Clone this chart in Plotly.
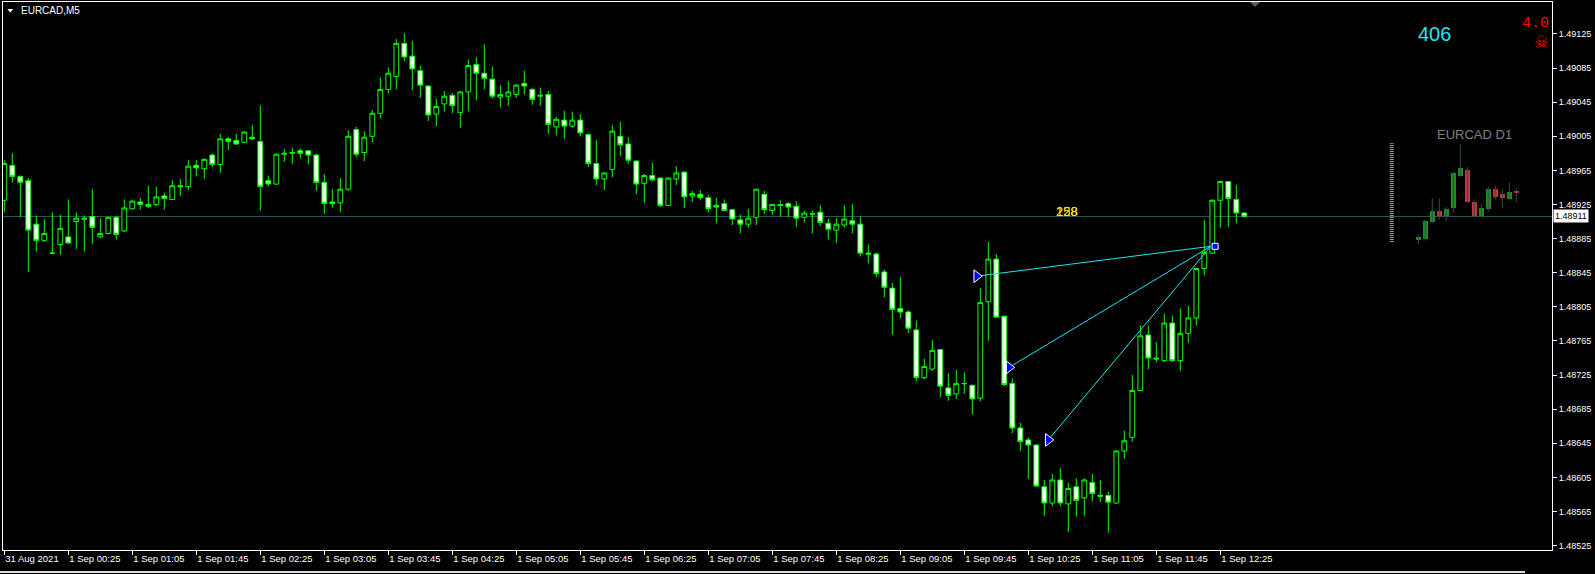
import plotly.graph_objects as go

# ---------------- data (EURCAD M5, bars indexed from 31 Aug 23:45) ----------------
bar_index = list(range(156))
opens = [1.48930, 1.48971, 1.48958, 1.48953, 1.48902, 1.48883, 1.48868, 1.48878, 1.48887, 1.48905,
         1.48909, 1.48911, 1.48887, 1.48891, 1.48910, 1.48894, 1.48920, 1.48928, 1.48925, 1.48925,
         1.48935, 1.48931, 1.48947, 1.48946, 1.48971, 1.48967, 1.48983, 1.48972, 1.49002, 1.49000,
         1.48998, 1.49004, 1.48999, 1.48953, 1.48949, 1.48984, 1.48985, 1.48988, 1.48988, 1.48983,
         1.48951, 1.48928, 1.48927, 1.48943, 1.49013, 1.48986, 1.49005, 1.49032, 1.49060, 1.49075,
         1.49114, 1.49099, 1.49082, 1.49064, 1.49031, 1.49043, 1.49053, 1.49033, 1.49057, 1.49089,
         1.49079, 1.49072, 1.49051, 1.49052, 1.49054, 1.49067, 1.49060, 1.49052, 1.49054, 1.49016,
         1.49024, 1.49017, 1.49024, 1.49007, 1.48973, 1.48955, 1.48966, 1.49005, 1.48996, 1.48976,
         1.48950, 1.48959, 1.48956, 1.48924, 1.48955, 1.48963, 1.48935, 1.48937, 1.48933, 1.48924,
         1.48926, 1.48919, 1.48907, 1.48902, 1.48910, 1.48937, 1.48918, 1.48925, 1.48926, 1.48923,
         1.48910, 1.48914, 1.48916, 1.48903, 1.48895, 1.48901, 1.48906, 1.48902, 1.48868, 1.48867,
         1.48846, 1.48827, 1.48803, 1.48799, 1.48778, 1.48722, 1.48732, 1.48755, 1.48710, 1.48703,
         1.48715, 1.48713, 1.48698, 1.48811, 1.48861, 1.48794, 1.48715, 1.48663, 1.48649, 1.48643,
         1.48594, 1.48575, 1.48602, 1.48574, 1.48594, 1.48581, 1.48599, 1.48584, 1.48584, 1.48575,
         1.48636, 1.48652, 1.48707, 1.48772, 1.48745, 1.48742, 1.48786, 1.48742, 1.48774, 1.48792,
         1.48850, 1.48868, 1.48930, 1.48952, 1.48931, 1.48915]
highs = [1.48977, 1.48985, 1.48959, 1.48956, 1.48912, 1.48908, 1.48916, 1.48913, 1.48931, 1.48916,
         1.48912, 1.48943, 1.48909, 1.48911, 1.48912, 1.48931, 1.48931, 1.48933, 1.48947, 1.48946,
         1.48939, 1.48954, 1.48955, 1.48977, 1.48977, 1.48979, 1.48985, 1.49008, 1.49004, 1.49008,
         1.49011, 1.49018, 1.49041, 1.48959, 1.48985, 1.48990, 1.48992, 1.48991, 1.48989, 1.48985,
         1.48961, 1.48943, 1.48956, 1.49012, 1.49016, 1.49011, 1.49036, 1.49074, 1.49086, 1.49119,
         1.49126, 1.49117, 1.49088, 1.49065, 1.49049, 1.49058, 1.49056, 1.49058, 1.49095, 1.49098,
         1.49113, 1.49087, 1.49065, 1.49070, 1.49066, 1.49082, 1.49062, 1.49062, 1.49058, 1.49028,
         1.49035, 1.49034, 1.49031, 1.49008, 1.49001, 1.48963, 1.49018, 1.49022, 1.49004, 1.48977,
         1.48961, 1.48974, 1.48957, 1.48957, 1.48970, 1.48964, 1.48941, 1.48942, 1.48936, 1.48933,
         1.48931, 1.48920, 1.48913, 1.48920, 1.48943, 1.48941, 1.48926, 1.48930, 1.48928, 1.48929,
         1.48918, 1.48918, 1.48924, 1.48908, 1.48909, 1.48924, 1.48926, 1.48911, 1.48878, 1.48869,
         1.48849, 1.48833, 1.48840, 1.48801, 1.48789, 1.48744, 1.48766, 1.48756, 1.48727, 1.48731,
         1.48728, 1.48714, 1.48827, 1.48881, 1.48867, 1.48795, 1.48721, 1.48669, 1.48652, 1.48644,
         1.48602, 1.48609, 1.48616, 1.48599, 1.48604, 1.48604, 1.48609, 1.48602, 1.48588, 1.48637,
         1.48660, 1.48725, 1.48783, 1.48783, 1.48764, 1.48797, 1.48795, 1.48803, 1.48806, 1.48851,
         1.48907, 1.48931, 1.48953, 1.48953, 1.48948, 1.48916]
lows = [1.48916, 1.48951, 1.48910, 1.48846, 1.48870, 1.48881, 1.48867, 1.48866, 1.48879, 1.48873,
        1.48870, 1.48879, 1.48886, 1.48890, 1.48884, 1.48893, 1.48919, 1.48919, 1.48921, 1.48923,
        1.48919, 1.48930, 1.48935, 1.48942, 1.48958, 1.48955, 1.48969, 1.48962, 1.48989, 1.48995,
        1.48997, 1.49001, 1.48918, 1.48946, 1.48948, 1.48975, 1.48973, 1.48979, 1.48972, 1.48941,
        1.48914, 1.48921, 1.48916, 1.48941, 1.48981, 1.48976, 1.48998, 1.49026, 1.49055, 1.49060,
        1.49093, 1.49059, 1.49050, 1.49023, 1.49017, 1.49034, 1.49032, 1.49015, 1.49034, 1.49047,
        1.49060, 1.49049, 1.49039, 1.49041, 1.49050, 1.49054, 1.49042, 1.49041, 1.49008, 1.49006,
        1.49002, 1.49015, 1.49005, 1.48969, 1.48948, 1.48942, 1.48957, 1.48982, 1.48973, 1.48937,
        1.48927, 1.48952, 1.48922, 1.48923, 1.48948, 1.48921, 1.48928, 1.48930, 1.48916, 1.48903,
        1.48917, 1.48901, 1.48891, 1.48898, 1.48901, 1.48914, 1.48913, 1.48911, 1.48910, 1.48899,
        1.48904, 1.48891, 1.48900, 1.48884, 1.48880, 1.48898, 1.48891, 1.48864, 1.48856, 1.48840,
        1.48816, 1.48772, 1.48792, 1.48774, 1.48718, 1.48720, 1.48730, 1.48699, 1.48695, 1.48697,
        1.48703, 1.48679, 1.48694, 1.48765, 1.48792, 1.48712, 1.48657, 1.48636, 1.48603, 1.48594,
        1.48560, 1.48571, 1.48571, 1.48541, 1.48559, 1.48560, 1.48577, 1.48576, 1.48540, 1.48574,
        1.48627, 1.48647, 1.48706, 1.48732, 1.48740, 1.48740, 1.48740, 1.48730, 1.48763, 1.48783,
        1.48842, 1.48867, 1.48898, 1.48899, 1.48903, 1.48910]
closes = [1.48973, 1.48958, 1.48951, 1.48895, 1.48883, 1.48891, 1.48868, 1.48897, 1.48880, 1.48909,
          1.48908, 1.48898, 1.48891, 1.48910, 1.48890, 1.48921, 1.48929, 1.48925, 1.48923, 1.48934,
          1.48932, 1.48947, 1.48946, 1.48970, 1.48968, 1.48978, 1.48972, 1.49002, 1.48999, 1.48996,
          1.49010, 1.49002, 1.48946, 1.48949, 1.48984, 1.48985, 1.48986, 1.48985, 1.48983, 1.48951,
          1.48926, 1.48926, 1.48943, 1.49005, 1.48984, 1.49004, 1.49032, 1.49060, 1.49079, 1.49114,
          1.49098, 1.49084, 1.49065, 1.49030, 1.49040, 1.49052, 1.49041, 1.49057, 1.49088, 1.49079,
          1.49073, 1.49052, 1.49054, 1.49057, 1.49065, 1.49064, 1.49048, 1.49053, 1.49019, 1.49025,
          1.49017, 1.49024, 1.49009, 1.48973, 1.48955, 1.48962, 1.49011, 1.48995, 1.48977, 1.48949,
          1.48959, 1.48954, 1.48924, 1.48956, 1.48962, 1.48934, 1.48938, 1.48933, 1.48920, 1.48922,
          1.48918, 1.48908, 1.48902, 1.48909, 1.48943, 1.48919, 1.48925, 1.48924, 1.48922, 1.48909,
          1.48915, 1.48914, 1.48904, 1.48896, 1.48902, 1.48908, 1.48902, 1.48868, 1.48867, 1.48844,
          1.48828, 1.48802, 1.48799, 1.48780, 1.48722, 1.48735, 1.48754, 1.48712, 1.48701, 1.48715,
          1.48715, 1.48697, 1.48810, 1.48861, 1.48793, 1.48714, 1.48663, 1.48647, 1.48643, 1.48595,
          1.48575, 1.48602, 1.48575, 1.48592, 1.48578, 1.48602, 1.48586, 1.48583, 1.48576, 1.48636,
          1.48648, 1.48707, 1.48771, 1.48745, 1.48744, 1.48786, 1.48742, 1.48774, 1.48792, 1.48850,
          1.48869, 1.48930, 1.48952, 1.48932, 1.48915, 1.48911]

tick_bars = [0, 8, 16, 24, 32, 40, 48, 56, 64, 72, 80, 88, 96, 104, 112, 120, 128, 136, 144, 152]
tick_labels = ["31 Aug 2021", "1 Sep 00:25", "1 Sep 01:05", "1 Sep 01:45", "1 Sep 02:25",
               "1 Sep 03:05", "1 Sep 03:45", "1 Sep 04:25", "1 Sep 05:05", "1 Sep 05:45",
               "1 Sep 06:25", "1 Sep 07:05", "1 Sep 07:45", "1 Sep 08:25", "1 Sep 09:05",
               "1 Sep 09:45", "1 Sep 10:25", "1 Sep 11:05", "1 Sep 11:45", "1 Sep 12:25"]
price_ticks = [1.49125, 1.49085, 1.49045, 1.49005, 1.48965, 1.48925, 1.48885, 1.48845,
               1.48805, 1.48765, 1.48725, 1.48685, 1.48645, 1.48605, 1.48565, 1.48525]
bid_price = 1.48911

# D1 mini-chart (indicator overlay)
d1_open = [1.48883, 1.48885, 1.48904, 1.48917, 1.48911, 1.48921, 1.48959, 1.48966, 1.48928, 1.48912,
           1.48920, 1.48943, 1.48937, 1.48931, 1.48941]
d1_high = [1.48891, 1.48907, 1.48932, 1.48932, 1.48922, 1.48963, 1.48996, 1.48969, 1.48931, 1.48926,
           1.48946, 1.48947, 1.48943, 1.48951, 1.48944]
d1_low = [1.48878, 1.48883, 1.48903, 1.48907, 1.48906, 1.48916, 1.48957, 1.48927, 1.48912, 1.48912,
          1.48917, 1.48931, 1.48921, 1.48930, 1.48928]
d1_close = [1.48887, 1.48906, 1.48917, 1.48911, 1.48920, 1.48962, 1.48968, 1.48928, 1.48912, 1.48921,
            1.48943, 1.48934, 1.48933, 1.48940, 1.48939]
d1_gauge_top, d1_gauge_bottom = 1.48997, 1.48881

# trend-line objects
arrow_bars = [121.55, 125.6, 130.5]
arrow_prices = [1.48841, 1.48734, 1.48649]
target_bar, target_price = 150.8, 1.48876
overlap_label_bar, overlap_label_price = 132.8, 1.48917

# ---------------- geometry helpers ----------------
W, H = 1595, 574
ML, MR, MT, MB = 3, 43, 2, 24
PW, PH = W - ML - MR, H - MT - MB


def px(x):
    return (x - ML) / PW


def py(y):
    return (H - MB - y) / PH


FONT = "Liberation Sans, Arial, sans-serif"
GREEN = "#00FF00"

fig = go.Figure()

# bid line
fig.add_shape(type="line", xref="paper", x0=0, x1=1, yref="y", y0=bid_price, y1=bid_price,
              line=dict(color="#2E5757", width=1), layer="below")

# main candles
fig.add_trace(go.Candlestick(
    x=bar_index, open=opens, high=highs, low=lows, close=closes,
    increasing=dict(fillcolor="#000000", line=dict(color=GREEN, width=1)),
    decreasing=dict(fillcolor="#FFFFFF", line=dict(color=GREEN, width=1)),
    whiskerwidth=0, showlegend=False, hoverinfo="skip"))

# D1 mini chart
d1_x = [176.75 + 0.875 * j for j in range(len(d1_open))]
wx, wy = [], []
for xv, hv, lv in zip(d1_x, d1_high, d1_low):
    wx += [xv, xv, None]
    wy += [lv, hv, None]
fig.add_trace(go.Scatter(x=wx, y=wy, mode="lines", line=dict(color="#2F4F4F", width=1),
                         showlegend=False, hoverinfo="skip"))
fig.add_trace(go.Bar(
    x=d1_x, base=[min(o, c) for o, c in zip(d1_open, d1_close)],
    y=[max(abs(c - o), 0.00002) for o, c in zip(d1_open, d1_close)],
    width=0.62, marker=dict(color=["#1E8C1E" if c >= o else "#C8323C" for o, c in zip(d1_open, d1_close)],
                            line=dict(width=0)),
    showlegend=False, hoverinfo="skip"))
fig.add_trace(go.Scatter(x=[173.43, 173.43], y=[d1_gauge_bottom, d1_gauge_top], mode="lines",
                         line=dict(color="#9A9A9A", width=4, dash="1px,1px"),
                         showlegend=False, hoverinfo="skip"))

# trend lines
lx, ly = [], []
for b, p in zip(arrow_bars, arrow_prices):
    lx += [b, target_bar, None]
    ly += [p, target_price, None]
fig.add_trace(go.Scatter(x=lx, y=ly, mode="lines", line=dict(color="#19E6F0", width=1),
                         showlegend=False, hoverinfo="skip"))
fig.add_trace(go.Scatter(x=arrow_bars, y=arrow_prices, mode="markers",
                         marker=dict(symbol="triangle-right", size=11, color="#0000FF",
                                     line=dict(color="white", width=1)),
                         showlegend=False, hoverinfo="skip"))
fig.add_trace(go.Scatter(x=[151.35], y=[target_price], mode="markers",
                         marker=dict(symbol="square", size=6, color="#0000FF",
                                     line=dict(color="white", width=1)),
                         showlegend=False, hoverinfo="skip"))

# overlapping yellow labels
for t in ["128", "258"]:
    fig.add_annotation(x=overlap_label_bar, y=overlap_label_price, xref="x", yref="y", text=t,
                       xanchor="center", yanchor="middle",
                       showarrow=False, font=dict(family=FONT, size=13, color="#FFE600"))

# top-left symbol label
fig.add_shape(type="path", xref="paper", yref="paper",
              path=f"M {px(7.3)} {py(9)} L {px(13.3)} {py(9)} L {px(10.3)} {py(12.5)} Z",
              fillcolor="white", line=dict(width=0))
fig.add_annotation(x=px(19.3), y=py(10.5), xref="paper", yref="paper", text="EURCAD,M5",
                   xanchor="left", yanchor="middle", showarrow=False,
                   font=dict(family=FONT, size=10, color="white"))
# chart-shift marker
fig.add_shape(type="path", xref="paper", yref="paper",
              path=f"M {px(1250)} {py(2)} L {px(1260)} {py(2)} L {px(1255)} {py(7)} Z",
              fillcolor="#4A6363", line=dict(width=0))

# right-side texts
fig.add_annotation(x=px(1434), y=py(34), xref="paper", yref="paper", text="406", showarrow=False,
                   xanchor="center", yanchor="middle",
                   font=dict(family=FONT, size=20, color="#1EE6F5"))
fig.add_annotation(x=px(1535), y=py(23.3), xref="paper", yref="paper", text="4.0", showarrow=False,
                   xanchor="center", yanchor="middle",
                   font=dict(family="Liberation Mono, Courier New, monospace", size=15, color="#FF0000"))
fig.add_annotation(x=px(1541.7), y=py(41.8), xref="paper", yref="paper", text="☠", showarrow=False,
                   xanchor="center", yanchor="middle",
                   font=dict(family="DejaVu Sans", size=17, color="#FF0000"))
fig.add_annotation(x=px(1474.7), y=py(134.3), xref="paper", yref="paper", text="EURCAD D1",
                   xanchor="center", yanchor="middle",
                   showarrow=False, font=dict(family=FONT, size=13, color="#808080"))

# bid price label box
fig.add_annotation(x=1, y=bid_price, xref="paper", yref="y", text="1.48911", xanchor="left",
                   yanchor="middle", xshift=1, showarrow=False, bgcolor="white", borderpad=1,
                   font=dict(family=FONT, size=9, color="black"))

# window frame line under the time scale
fig.add_shape(type="line", xref="paper", yref="paper", x0=px(0), x1=px(1525), y0=py(572), y1=py(572),
              line=dict(color="#DADADA", width=2))

fig.update_layout(
    width=W, height=H,
    margin=dict(l=ML, r=MR, t=MT, b=MB, pad=0, autoexpand=False),
    paper_bgcolor="black", plot_bgcolor="black",
    showlegend=False, boxgap=0.4, boxgroupgap=0, bargap=0,
    font=dict(family=FONT, size=10, color="white"),
    xaxis=dict(range=[(ML - 4.3) / 8, (W - MR - 4.3) / 8], tickmode="array", tickvals=tick_bars,
               ticktext=tick_labels, ticks="outside", ticklen=4, tickcolor="white", tickangle=0,
               ticklabelposition="outside right", showgrid=False, zeroline=False, automargin=False,
               showline=True, linecolor="white", linewidth=1, mirror=True,
               rangeslider=dict(visible=False), tickfont=dict(family=FONT, size=9.5, color="white")),
    yaxis=dict(side="right", range=[1.485199, 1.491625], tickmode="array", tickvals=price_ticks,
               tickformat=".5f", ticks="outside", ticklen=4, tickcolor="white", showgrid=False,
               zeroline=False, showline=True, linecolor="white", linewidth=1, mirror=True,
               automargin=False, tickfont=dict(family=FONT, size=9, color="white")),
)

fig.write_html("out.html", config={"displayModeBar": False},
               post_script="document.body.style.margin='0';document.body.style.overflow='hidden';")
